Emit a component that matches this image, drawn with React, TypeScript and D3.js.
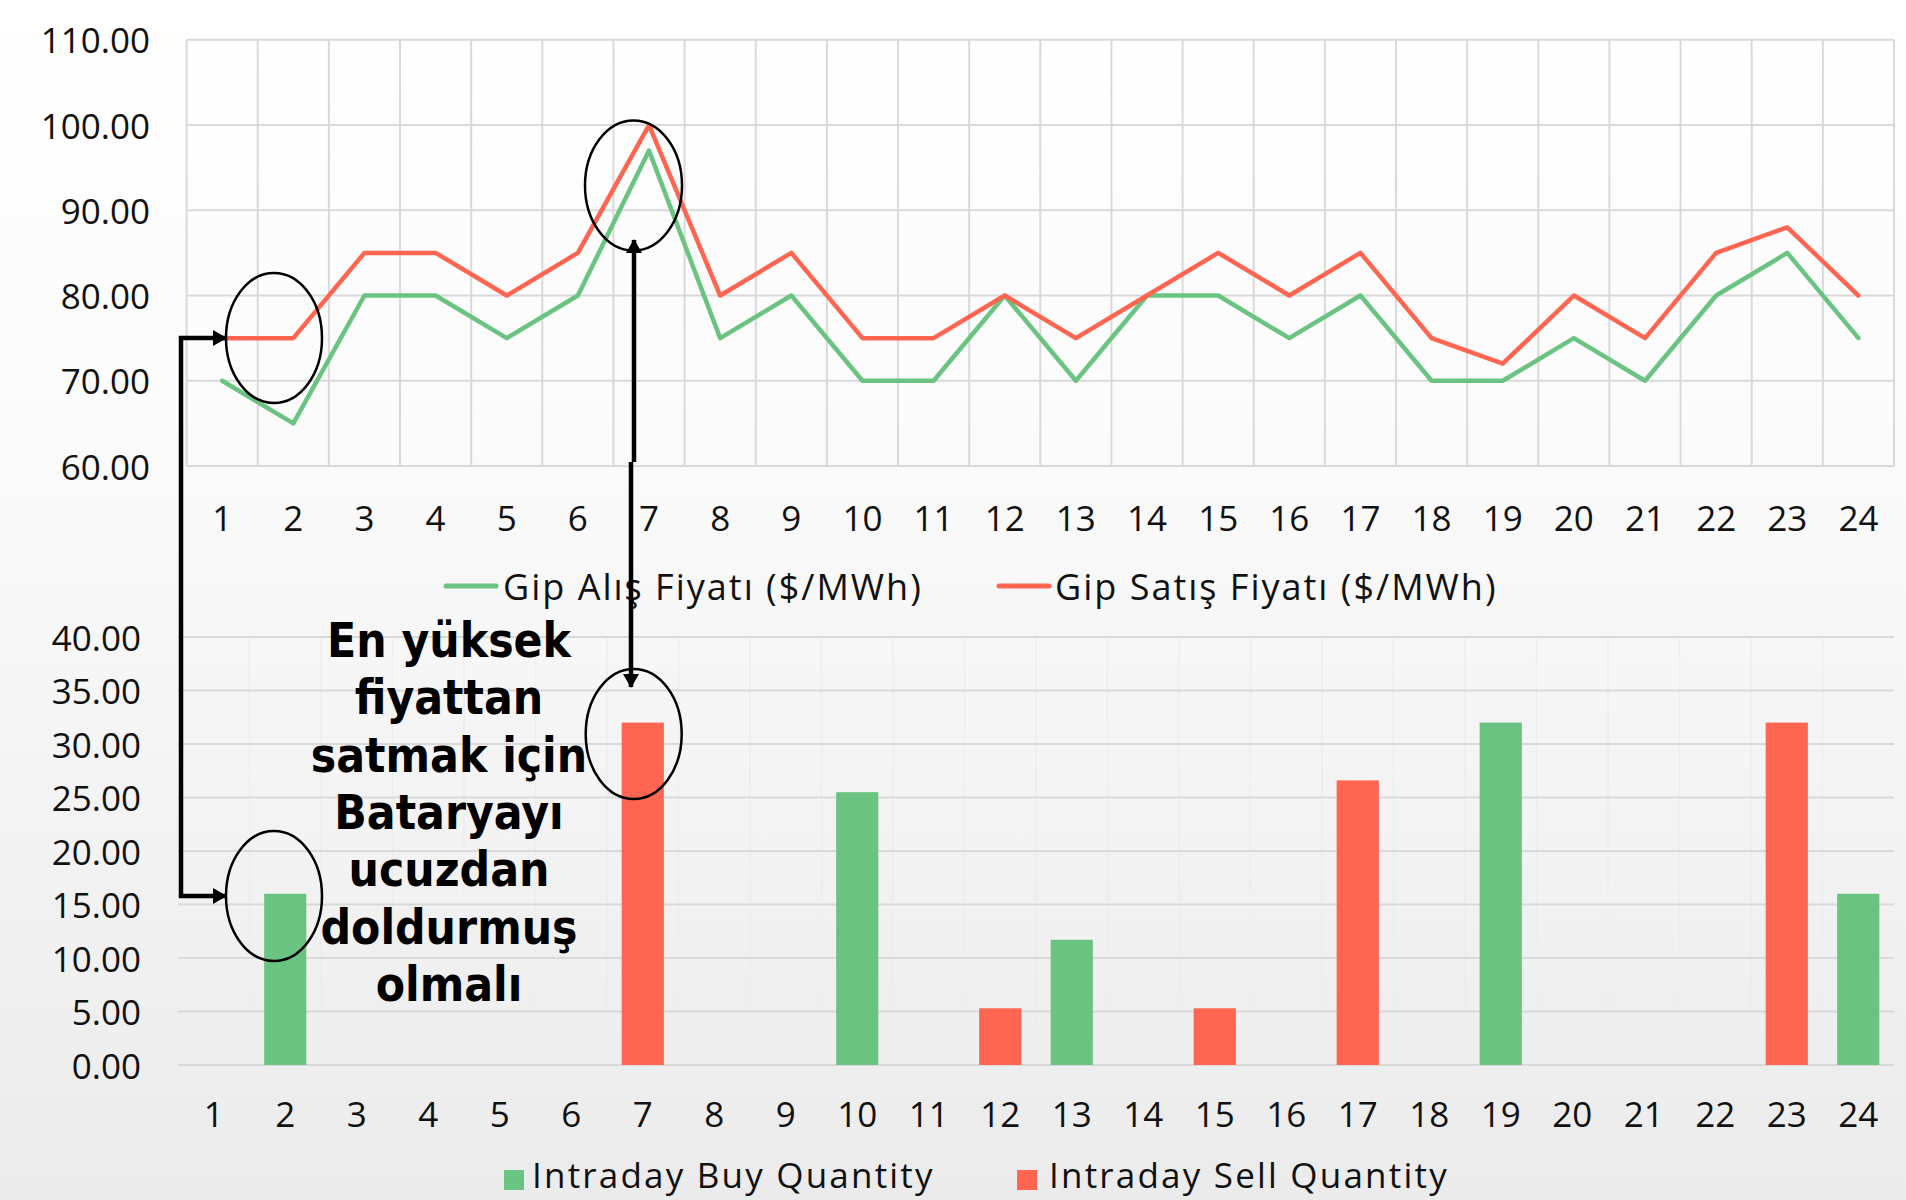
import React from "react";
import * as d3 from "d3";

const hours = d3.range(1, 25).map(String);
const buyPrice = [70, 65, 80, 80, 75, 80, 97, 75, 80, 70, 70, 80, 70, 80, 80, 75, 80, 70, 70, 75, 70, 80, 85, 75];
const sellPrice = [75, 75, 85, 85, 80, 85, 100, 80, 85, 75, 75, 80, 75, 80, 85, 80, 85, 75, 72, 80, 75, 85, 88, 80];
const buyQty = [0, 16, 0, 0, 0, 0, 0, 0, 0, 25.5, 0, 0, 11.7, 0, 0, 0, 0, 0, 32, 0, 0, 0, 0, 16];
const sellQty = [0, 0, 0, 0, 0, 0, 32, 0, 0, 0, 0, 5.3, 0, 0, 5.3, 0, 26.6, 0, 0, 0, 0, 0, 32, 0];
const priceTicks = [60, 70, 80, 90, 100, 110];
const qtyTicks = [0, 5, 10, 15, 20, 25, 30, 35, 40];
const legendTop = ["Gip Alış Fiyatı ($/MWh)", "Gip Satış Fiyatı ($/MWh)"];
const legendBottom = ["Intraday Buy Quantity", "Intraday Sell Quantity"];
const noteLines = ["En yüksek", "fiyattan", "satmak için", "Bataryayı", "ucuzdan", "doldurmuş", "olmalı"];

const GREEN = "#6BC382";
const RED = "#FF6550";
const GRID = "#D9D9D9";
const FONT = "'Open Sans', sans-serif";

export default function App() {
  const W = 1906, H = 1200;
  // top chart
  const xTop = d3.scaleBand().domain(hours).range([186.6, 1894]).padding(0);
  const yTop = d3.scaleLinear().domain([60, 110]).range([466, 39.8]);
  // bottom chart
  const xBot = d3.scaleBand().domain(hours).range([178, 1894]).padding(0);
  const yBot = d3.scaleLinear().domain([0, 40]).range([1065, 637]);
  const bwT = xTop.bandwidth();
  const bwB = xBot.bandwidth();
  const barW = bwB * 0.59;

  const line = d3
    .line<number>()
    .x((_, i) => (xTop(hours[i]) as number) + bwT / 2)
    .y((d) => yTop(d));

  const bounds = d3.range(0, 25);

  return (
    <svg
      width={W}
      height={H}
      style={{ position: "absolute", left: 0, top: 0, display: "block" }}
      fontFamily={FONT}
    >
      <defs>
        <linearGradient id="bg" x1="0" y1="0" x2="0" y2="1">
          <stop offset="0" stopColor="#FFFFFF" />
          <stop offset="0.35" stopColor="#FBFBFB" />
          <stop offset="1" stopColor="#EBEBEB" />
        </linearGradient>
        <marker
          id="arr"
          viewBox="0 0 14 16"
          refX="13"
          refY="8"
          markerWidth="14"
          markerHeight="16"
          markerUnits="userSpaceOnUse"
          orient="auto-start-reverse"
        >
          <path d="M0,0 L14,8 L0,16 Z" fill="#000" />
        </marker>
      </defs>
      <rect x={0} y={0} width={W} height={H} fill="url(#bg)" />

      {/* ---------- top chart ---------- */}
      <g>
        {priceTicks.map((t) => (
          <line key={"hy" + t} x1={186.6} x2={1894} y1={yTop(t)} y2={yTop(t)} stroke={GRID} strokeWidth={2} />
        ))}
        {bounds.map((k) => {
          const x = 186.6 + k * bwT;
          return <line key={"vx" + k} x1={x} x2={x} y1={yTop(110)} y2={yTop(60)} stroke={GRID} strokeWidth={2} />;
        })}
        {priceTicks.map((t) => (
          <text key={"ty" + t} x={150} y={yTop(t)} textAnchor="end" dominantBaseline="central" fontSize={35} fill="#111">
            {d3.format(".2f")(t)}
          </text>
        ))}
        {hours.map((h) => (
          <text key={"tx" + h} x={(xTop(h) as number) + bwT / 2} y={517} textAnchor="middle" dominantBaseline="central" fontSize={35} fill="#111">
            {h}
          </text>
        ))}
        <path d={line(buyPrice) as string} fill="none" stroke={GREEN} strokeWidth={4.5} strokeLinejoin="round" strokeLinecap="round" />
        <path d={line(sellPrice) as string} fill="none" stroke={RED} strokeWidth={4.5} strokeLinejoin="round" strokeLinecap="round" />
        {/* legend */}
        <line x1={446} x2={496} y1={586} y2={586} stroke={GREEN} strokeWidth={5} strokeLinecap="round" />
        <text x={503} y={586} dominantBaseline="central" fontSize={36} letterSpacing={2} fill="#111">{legendTop[0]}</text>
        <line x1={999} x2={1049} y1={586} y2={586} stroke={RED} strokeWidth={5} strokeLinecap="round" />
        <text x={1055} y={586} dominantBaseline="central" fontSize={36} letterSpacing={2} fill="#111">{legendTop[1]}</text>
      </g>

      {/* ---------- bottom chart ---------- */}
      <g>
        {bounds.slice(1, 24).map((k) => {
          const x = 178 + k * bwB;
          return <line key={"bvx" + k} x1={x} x2={x} y1={yBot(40)} y2={yBot(0)} stroke="#EDEDED" strokeWidth={1.5} />;
        })}
        {qtyTicks.map((t) => (
          <line key={"by" + t} x1={178} x2={1894} y1={yBot(t)} y2={yBot(t)} stroke={GRID} strokeWidth={2} />
        ))}
        {qtyTicks.map((t) => (
          <text key={"bty" + t} x={141} y={yBot(t)} textAnchor="end" dominantBaseline="central" fontSize={35} fill="#111">
            {d3.format(".2f")(t)}
          </text>
        ))}
        {hours.map((h) => (
          <text key={"btx" + h} x={(xBot(h) as number) + bwB / 2} y={1113} textAnchor="middle" dominantBaseline="central" fontSize={35} fill="#111">
            {h}
          </text>
        ))}
        {buyQty.map((v, i) =>
          v > 0 ? (
            <rect key={"bb" + i} x={(xBot(hours[i]) as number) + (bwB - barW) / 2} y={yBot(v)} width={barW} height={yBot(0) - yBot(v)} fill={GREEN} />
          ) : null
        )}
        {sellQty.map((v, i) =>
          v > 0 ? (
            <rect key={"bs" + i} x={(xBot(hours[i]) as number) + (bwB - barW) / 2} y={yBot(v)} width={barW} height={yBot(0) - yBot(v)} fill={RED} />
          ) : null
        )}
        {/* legend */}
        <rect x={504} y={1170} width={20} height={20} fill={GREEN} />
        <text x={532} y={1188} fontSize={35} letterSpacing={2.2} fill="#111">{legendBottom[0]}</text>
        <rect x={1017} y={1170} width={20} height={20} fill={RED} />
        <text x={1049} y={1188} fontSize={35} letterSpacing={2.2} fill="#111">{legendBottom[1]}</text>
      </g>

      {/* ---------- annotations ---------- */}
      <g fill="none" stroke="#000">
        <ellipse cx={274} cy={338} rx={48} ry={65} strokeWidth={2.5} />
        <ellipse cx={633.5} cy={185.5} rx={48.5} ry={65} strokeWidth={2.5} />
        <ellipse cx={274} cy={896} rx={48} ry={65} strokeWidth={2.5} />
        <ellipse cx={633.7} cy={734} rx={48} ry={65} strokeWidth={2.5} />
        <path d="M226,338 H181 V896 H226" strokeWidth={4.5} markerStart="url(#arr)" markerEnd="url(#arr)" />
        <path d="M634,240 V462" strokeWidth={4.5} markerStart="url(#arr)" />
        <path d="M631,462 V687" strokeWidth={4.5} markerEnd="url(#arr)" />
      </g>
      <g
        fontFamily="'DejaVu Sans Condensed', 'DejaVu Sans', sans-serif"
        fontWeight={700}
        fontSize={47.5}
        textAnchor="middle"
        fill="#000"
        style={{ fontStretch: "condensed" }}
      >
        {noteLines.map((s, i) => (
          <text key={"n" + i} x={449} y={657 + i * 57.3}>
            {s}
          </text>
        ))}
      </g>
    </svg>
  );
}
